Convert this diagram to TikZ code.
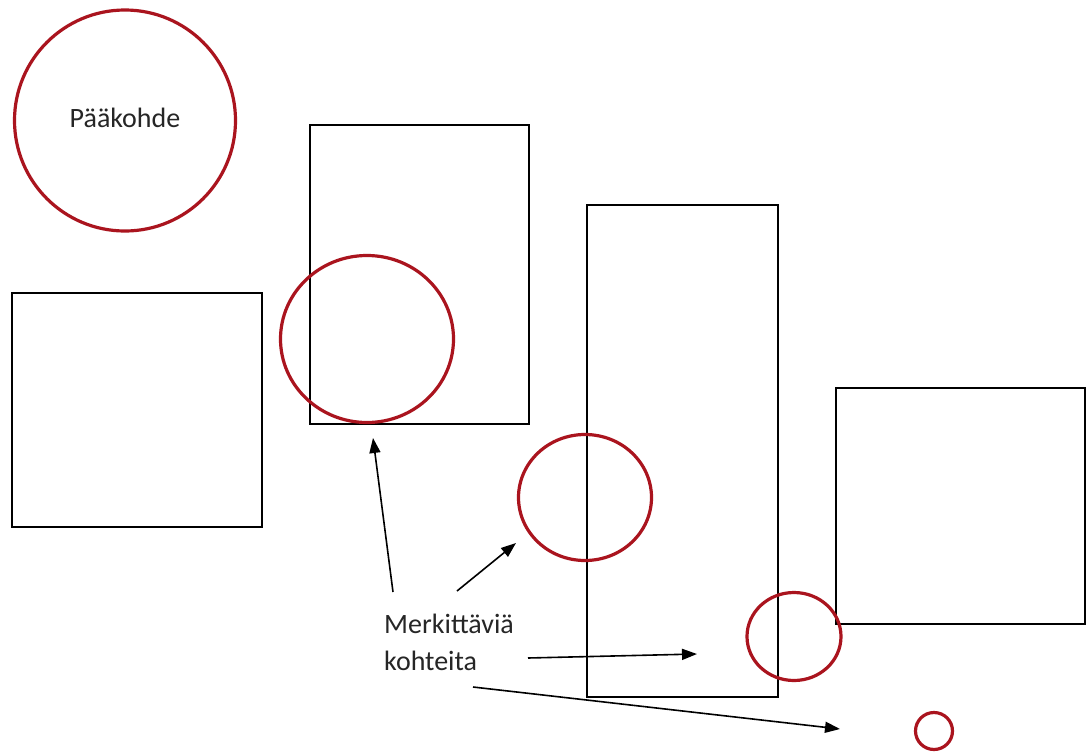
\documentclass[tikz,border=0pt]{standalone}
\usepackage{fontspec}
\setmainfont{Carlito}
\usetikzlibrary{shapes.geometric,arrows.meta}
\definecolor{ringred}{RGB}{170,20,30}
\begin{document}
\begin{tikzpicture}[x=1pt,y=-1pt,
  ring/.style={draw=ringred,line width=3.2pt,ellipse,inner sep=0pt},
  box/.style={draw=black,line width=1.6pt,rectangle,inner sep=0pt},
  pointer/.style={draw=black,line width=1.6pt,-{Triangle[length=15pt,width=11pt]}},
  caption/.style={font=\fontsize{28}{37}\selectfont,text=black!85,inner sep=0pt}]
\fill[white] (0,0) rectangle (1088,753);
\useasboundingbox (0,0) rectangle (1088,753);

% rectangles
\node[box,minimum width=250pt,minimum height=234pt] (leftbox) at (137,410) {};
\node[box,minimum width=219pt,minimum height=299pt] (upperbox) at (419.5,274.5) {};
\node[box,minimum width=191pt,minimum height=492pt] (tallbox) at (682.5,451) {};
\node[box,minimum width=249pt,minimum height=236pt] (rightbox) at (960.5,506) {};

% circles
\node[ring,minimum width=221pt,minimum height=221pt] (main) at (125,120.5) {};
\node[caption] (maintext) at (125,118) {Pääkohde};
\node[ring,minimum width=173pt,minimum height=167pt] (ringA) at (367,339) {};
\node[ring,minimum width=133pt,minimum height=126pt] (ringB) at (585,497.5) {};
\node[ring,minimum width=94pt,minimum height=88pt] (ringC) at (794,636.5) {};
\node[ring,minimum width=37pt,minimum height=37pt] (ringD) at (934,731) {};

% label and pointers
\node[caption,align=left,anchor=north west] (marks) at (384,614) {Merkittäviä\\kohteita};
\coordinate (tailA) at (393,592);
\coordinate (tipA) at (373,438);
\coordinate (tailB) at (457,591);
\coordinate (tipB) at (516,543);
\coordinate (tailC) at (528,658);
\coordinate (tipC) at (697,654);
\coordinate (tailD) at (473,687);
\coordinate (tipD) at (840,729);
\draw[pointer] (tailA) -- (tipA);
\draw[pointer] (tailB) -- (tipB);
\draw[pointer] (tailC) -- (tipC);
\draw[pointer] (tailD) -- (tipD);
\end{tikzpicture}
\end{document}
